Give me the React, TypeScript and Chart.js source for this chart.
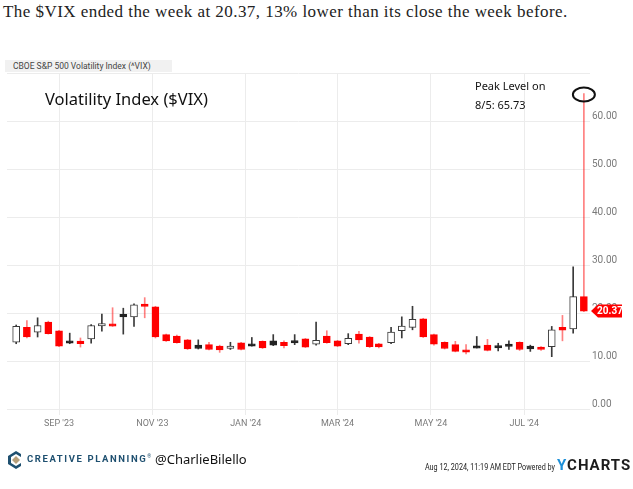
import React, { useEffect, useRef } from "react";
import { Chart, registerables } from "chart.js";

Chart.register(...registerables);

// Weekly candles (week-ending Friday)
const weekDates = [
  "2023-08-04", "2023-08-11", "2023-08-18", "2023-08-25", "2023-09-01", "2023-09-08",
  "2023-09-15", "2023-09-22", "2023-09-29", "2023-10-06", "2023-10-13", "2023-10-20",
  "2023-10-27", "2023-11-03", "2023-11-10", "2023-11-17", "2023-11-24", "2023-12-01",
  "2023-12-08", "2023-12-15", "2023-12-22", "2023-12-29", "2024-01-05", "2024-01-12",
  "2024-01-19", "2024-01-26", "2024-02-02", "2024-02-09", "2024-02-16", "2024-02-23",
  "2024-03-01", "2024-03-08", "2024-03-15", "2024-03-22", "2024-03-28", "2024-04-05",
  "2024-04-12", "2024-04-19", "2024-04-26", "2024-05-03", "2024-05-10", "2024-05-17",
  "2024-05-24", "2024-05-31", "2024-06-07", "2024-06-14", "2024-06-21", "2024-06-28",
  "2024-07-05", "2024-07-12", "2024-07-19", "2024-07-26", "2024-08-02", "2024-08-09",
];
const opens = [
  13.9, 17.0, 16.0, 18.1, 16.3, 14.1, 14.0, 14.6, 17.4, 17.6, 19.6, 19.2,
  21.8, 21.3, 15.5, 15.2, 14.4, 13.3, 13.4, 13.1, 12.6, 13.8, 13.4, 14.1,
  14.2, 13.9, 14.1, 14.6, 13.5, 15.2, 14.2, 13.6, 15.6, 15.0, 13.6, 13.8,
  16.3, 17.0, 18.8, 15.5, 13.9, 13.4, 12.3, 13.0, 13.3, 13.2, 13.4, 13.9,
  13.1, 12.9, 13.0, 17.0, 16.7, 23.4,
];
const highs = [
  17.5, 18.4, 19.0, 18.3, 16.4, 15.8, 14.8, 17.6, 19.8, 21.1, 21.0, 21.9,
  23.2, 21.4, 15.6, 15.4, 14.5, 14.4, 13.9, 13.3, 13.9, 13.9, 14.9, 14.2,
  15.5, 14.2, 15.5, 14.7, 18.1, 16.3, 14.3, 15.7, 16.2, 15.1, 13.7, 17.0,
  19.2, 21.4, 18.9, 15.6, 14.0, 14.1, 13.4, 15.1, 14.5, 13.7, 14.2, 14.0,
  13.3, 13.0, 17.2, 19.5, 29.6, 65.73,
];
const lows = [
  13.6, 14.8, 15.0, 15.6, 13.0, 13.6, 12.9, 13.7, 16.2, 17.2, 15.6, 17.2,
  19.0, 14.8, 14.1, 13.7, 12.4, 12.5, 12.3, 11.8, 12.4, 12.3, 13.1, 12.6,
  13.2, 12.7, 13.4, 12.8, 13.3, 13.7, 13.0, 13.4, 13.7, 12.8, 12.7, 13.6,
  14.8, 16.5, 14.9, 13.3, 12.5, 11.9, 11.5, 12.7, 12.1, 12.1, 12.4, 12.2,
  12.0, 12.2, 10.9, 14.2, 15.8, 20.3,
];
const closes = [
  17.2, 15.0, 17.4, 15.7, 13.1, 13.85, 13.75, 17.4, 17.7, 17.4, 19.3, 21.7,
  21.4, 15.0, 14.2, 13.8, 12.5, 12.6, 12.4, 12.3, 13.1, 12.4, 13.3, 12.7,
  13.3, 13.2, 13.9, 12.9, 14.3, 13.8, 13.1, 14.7, 14.4, 13.0, 12.95, 16.0,
  17.3, 18.7, 15.0, 13.5, 12.6, 12.0, 11.9, 12.8, 12.2, 12.7, 13.2, 12.4,
  12.5, 12.4, 16.5, 16.4, 23.4, 20.37,
];

const tickDates = ["2023-09-01", "2023-11-01", "2024-01-01", "2024-03-01", "2024-05-01", "2024-07-01"];
const tickLabels = ["SEP '23", "NOV '23", "JAN '24", "MAR '24", "MAY '24", "JUL '24"];

const lastClose = 20.37;
const peakValue = 65.73;
const peakDate = "2024-08-09";

const BASE = Date.UTC(2023, 7, 4);
const dayIndex = (s: string) => {
  const [y, m, d] = s.split("-").map(Number);
  return (Date.UTC(y, m - 1, d) - BASE) / 86400000;
};

const candleKind = (i: number) => {
  const o = opens[i];
  const c = closes[i];
  const p = i > 0 ? closes[i - 1] : o;
  const down = c < p;
  if (c >= o) return down ? "hollowRed" : "hollow";
  return down ? "red" : "black";
};

const RED = "#ff0000";
const DARK = "#3a3a3a";

export default function App() {
  const ref = useRef<HTMLCanvasElement | null>(null);

  useEffect(() => {
    if (!ref.current) return;
    const xs = weekDates.map(dayIndex);
    const kinds = xs.map((_, i) => candleKind(i));
    const wickData = xs.map((x, i) => ({ x, y: [lows[i], highs[i]] }));
    const bodyData = xs.map((x, i) => {
      let lo = Math.min(opens[i], closes[i]);
      let hi = Math.max(opens[i], closes[i]);
      if (hi - lo < 0.5) {
        const m = (hi + lo) / 2;
        lo = m - 0.25;
        hi = m + 0.25;
      }
      return { x, y: [lo, hi] };
    });
    const wickColors = kinds.map((k) => (k === "red" || k === "hollowRed" ? "rgba(255,0,0,0.5)" : DARK));
    const bodyBg = kinds.map((k) => (k === "red" ? RED : k === "black" ? "#222" : "#ffffff"));
    const bodyBorder = kinds.map((k) => (k === "red" || k === "hollowRed" ? RED : k === "black" ? "#222" : DARK));

    const overlay = {
      id: "overlay",
      afterDraw(chart: any) {
        const { ctx, scales, chartArea } = chart;
        const x = scales.x;
        const y = scales.y;
        ctx.save();
        const px = x.getPixelForValue(dayIndex(peakDate));
        const py = y.getPixelForValue(peakValue);
        ctx.beginPath();
        ctx.ellipse(px, py + 1, 11, 7, 0, 0, Math.PI * 2);
        ctx.lineWidth = 2;
        ctx.strokeStyle = "#111";
        ctx.stroke();
        const ty = Math.round(y.getPixelForValue(lastClose));
        const l = chartArea.right + 1;
        const r = 622;
        ctx.beginPath();
        ctx.moveTo(l, ty);
        ctx.lineTo(l + 7, ty - 6.5);
        ctx.lineTo(r, ty - 6.5);
        ctx.lineTo(r, ty + 6.5);
        ctx.lineTo(l + 7, ty + 6.5);
        ctx.closePath();
        ctx.fillStyle = RED;
        ctx.fill();
        ctx.fillStyle = "#fff";
        ctx.font = "bold 10px Roboto";
        ctx.textAlign = "center";
        ctx.textBaseline = "middle";
        ctx.fillText(lastClose.toFixed(2), (l + 7 + r) / 2, ty + 0.5);
        ctx.restore();
      },
    };

    const chart = new Chart(ref.current, {
      type: "bar",
      data: {
        datasets: [
          {
            label: "wick",
            data: wickData as any,
            backgroundColor: wickColors,
            borderWidth: 0,
            barThickness: 1,
            grouped: false,
            order: 2,
          } as any,
          {
            label: "body",
            data: bodyData as any,
            backgroundColor: bodyBg,
            borderColor: bodyBorder,
            borderWidth: 1,
            borderSkipped: false,
            barThickness: 7,
            grouped: false,
            order: 1,
          } as any,
        ],
      },
      options: {
        responsive: false,
        animation: false,
        layout: { padding: { left: 7, top: 73, right: 0, bottom: 0 } },
        plugins: { legend: { display: false }, tooltip: { enabled: false } },
        scales: {
          x: {
            type: "linear",
            min: -6,
            max: 375,
            offset: false,
            grid: { color: "#ececec", offset: false, drawTicks: true, tickLength: 6, tickColor: "#ececec" },
            border: { display: false },
            afterBuildTicks: (s: any) => {
              s.ticks = tickDates.map((d) => ({ value: dayIndex(d) }));
            },
            ticks: {
              autoSkip: false,
              maxRotation: 0,
              padding: 3,
              color: "#7a7a7a",
              font: { family: "Roboto", size: 9 },
              callback: (_v: any, i: number) => tickLabels[i],
            },
            afterFit: (s: any) => {
              s.height = 80;
            },
          } as any,
          y: {
            position: "right",
            min: 0,
            max: 70,
            grid: { color: "#ececec", drawTicks: false },
            border: { display: false },
            ticks: {
              stepSize: 10,
              labelOffset: -5,
              padding: 2,
              color: "#7a7a7a",
              font: { family: "Roboto", size: 10 },
              callback: (v: any) => (Number(v) === 70 ? "" : Number(v).toFixed(2)),
            },
            afterFit: (s: any) => {
              s.width = 43;
            },
          } as any,
        },
      },
      plugins: [overlay],
    });
    return () => chart.destroy();
  }, []);

  const hand = '"Comic Sans MS", "Noto Sans", sans-serif';

  return (
    <div style={{ position: "absolute", left: 0, top: 0, width: 633, height: 489, background: "#fff", overflow: "hidden" }}>
      <div style={{ position: "absolute", left: 3, top: 2, fontFamily: '"Liberation Serif", serif', fontSize: 17, letterSpacing: 0.45, color: "#222", whiteSpace: "nowrap" }}>
        The $VIX ended the week at 20.37, 13% lower than its close the week before.
      </div>
      <canvas ref={ref} width={633} height={489} style={{ position: "absolute", left: 0, top: 0 }} />
      <div style={{ position: "absolute", left: 5, top: 60, width: 159, height: 12, paddingLeft: 8, background: "#f1f1f1", fontFamily: "Roboto", fontSize: 8.5, lineHeight: "12px", color: "#444", whiteSpace: "nowrap" }}>
        CBOE S&amp;P 500 Volatility Index (^VIX)
      </div>
      <div style={{ position: "absolute", left: 45, top: 87, fontFamily: hand, fontSize: 16.5, color: "#111", whiteSpace: "nowrap" }}>
        Volatility Index ($VIX)
      </div>
      <div style={{ position: "absolute", left: 475, top: 76, fontFamily: hand, fontSize: 11, lineHeight: "19px", color: "#111", whiteSpace: "nowrap" }}>
        <div>Peak Level on</div>
        <div>8/5: 65.73</div>
      </div>
      <svg style={{ position: "absolute", left: 8, top: 451 }} width={16} height={18} viewBox="0 0 16 18">
        <path d="M13 3 L8 0 L0 5 L0 13 L8 18 L13 15 L13 12 L8 15 L3 12 L3 6 L8 3 L13 6 Z" fill="#1f5070" />
        <path d="M8 5 L12 9 L8 13 L4 9 Z" fill="#b8a07a" />
      </svg>
      <div style={{ position: "absolute", left: 27, top: 453, fontFamily: "Roboto", fontWeight: 700, fontSize: 9.5, letterSpacing: 1.6, color: "#1f5070", whiteSpace: "nowrap" }}>
        CREATIVE PLANNING<sup style={{ fontSize: 5, letterSpacing: 0 }}>®</sup>
      </div>
      <div style={{ position: "absolute", left: 155, top: 450, fontFamily: hand, fontSize: 13, color: "#111", whiteSpace: "nowrap" }}>
        @CharlieBilello
      </div>
      <div style={{ position: "absolute", right: 78, top: 462, fontFamily: "Roboto", fontSize: 8.5, color: "#222", whiteSpace: "nowrap", transform: "scaleX(0.85)", transformOrigin: "right center" }}>
        Aug 12, 2024, 11:19 AM EDT Powered by
      </div>
      <div style={{ position: "absolute", left: 557, top: 456, fontFamily: "Roboto", fontWeight: 700, fontSize: 15, letterSpacing: 1, color: "#1c1c1c", whiteSpace: "nowrap" }}>
        <span style={{ color: "#1e90d8" }}>Y</span>CHARTS
      </div>
    </div>
  );
}
